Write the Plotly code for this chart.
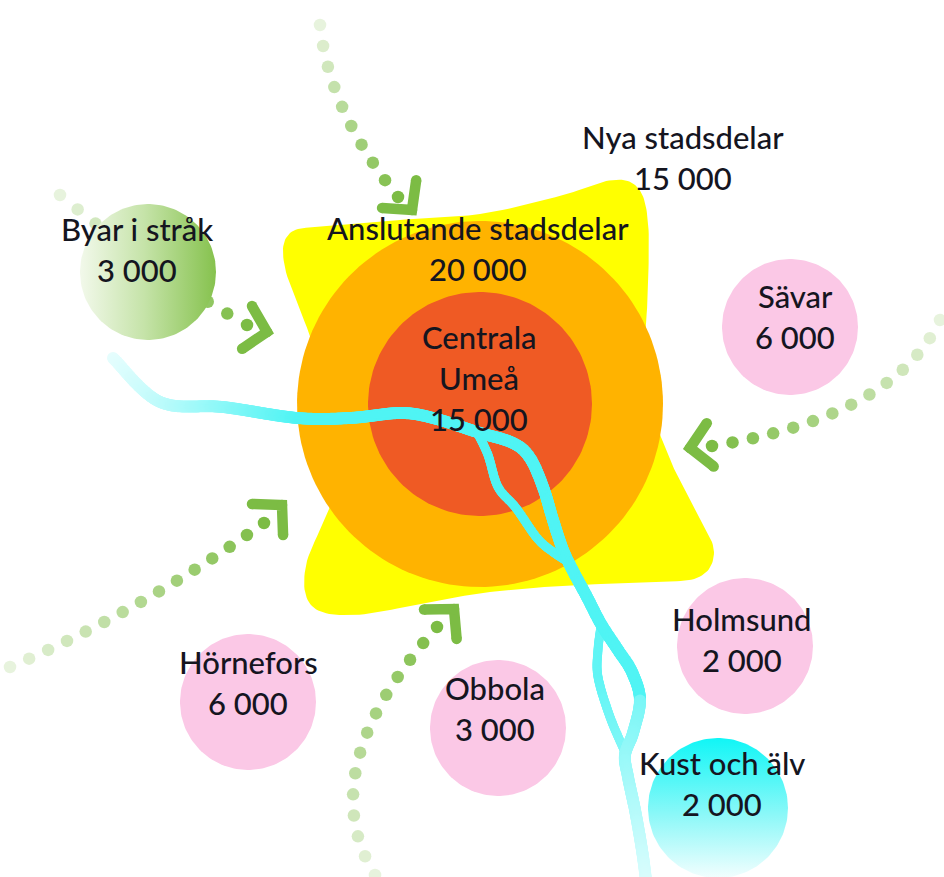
import numpy as np
import plotly.graph_objects as go

# ---------------- data ----------------
area_names = ["Centrala\nUmeå", "Anslutande stadsdelar", "Nya stadsdelar", "Byar i stråk",
              "Sävar", "Holmsund", "Obbola", "Hörnefors", "Kust och älv"]
area_values = [15000, 20000, 15000, 3000, 6000, 2000, 3000, 6000, 2000]

# ---------------- layout geometry (pixels) ----------------
label_x = [479, 478, 683, 137, 795, 742, 495, 248, 722]
label_y = [340, 231, 140, 232, 299, 622, 691, 665, 766]
line_gap = 41

ring_center = (480, 404)
ring_radii = [183, 112]            # orange, red
ring_colors = ["#FFB300", "#EF5A24"]

sat_cx = [790, 745, 498, 248]
sat_cy = [327, 646, 728, 702]
sat_r = 68
pink = "#FBC8E6"

byar_c = (148, 272)
kust_c = (718, 808)

star_outline = [(480, 214), (560, 196), (612, 180), (638, 188), (648, 222), (648, 290),
                (645, 380), (668, 455), (697, 512), (714, 552), (697, 578), (640, 582),
                (560, 586), (490, 592), (430, 602), (355, 615), (312, 606), (306, 565),
                (334, 492), (332, 420), (313, 345), (285, 268), (290, 233), (330, 226),
                (400, 220)]

river_main = [(113, 358), (160, 402), (223, 407), (297, 418), (350, 418), (400, 413),
              (433, 418), (477, 432), (513, 443), (530, 458), (543, 487), (553, 520),
              (563, 550), (573, 571), (587, 597), (601, 624), (618, 650), (632, 672),
              (640, 700), (633, 733), (625, 755), (628, 777), (635, 810), (642, 850),
              (646, 880)]
river_branch1 = [(477, 432), (488, 455), (498, 487), (516, 508), (537, 538), (553, 552),
                 (570, 563)]
river_branch2 = [(601, 626), (598, 650), (598, 677), (610, 717), (625, 752)]

# arrows: quadratic bezier start / control / end, number of dots
arrow_p0 = [(320, 25), (60, 195), (940, 320), (10, 667), (375, 875)]
arrow_p1 = [(329, 111), (150, 270), (894, 417), (141, 611), (310, 770)]
arrow_p2 = [(398, 197), (247, 325), (712, 446), (264, 523), (437, 627)]
arrow_ndots = [10, 11, 14, 15, 14]
chev_vertex = [(412, 210), (267, 332), (690, 448), (282, 505), (454, 609)]
chev_heading = [51, 13, 171, -45, -48]
green = "124,188,68"

FONT = "Lato"
TXT = "#15151f"
FONT_SIZE = 31


def fmt(v):
    return f"{v:,}".replace(",", " ")


def catmull(points, closed, n=14):
    P = np.array(points, float)
    if closed:
        P = np.vstack([P[-1], P, P[0], P[1]])
    else:
        P = np.vstack([P[0], P, P[-1]])
    out = []
    for i in range(1, len(P) - 2):
        p0, p1, p2, p3 = P[i - 1], P[i], P[i + 1], P[i + 2]
        for t in np.linspace(0, 1, n, endpoint=False):
            t2, t3 = t * t, t * t * t
            out.append(0.5 * ((2 * p1) + (-p0 + p2) * t + (2 * p0 - 5 * p1 + 4 * p2 - p3) * t2
                              + (-p0 + 3 * p1 - 3 * p2 + p3) * t3))
    out.append(P[1] if closed else P[-2])
    return np.array(out)


def resample(P, step=1.0):
    seg = np.sqrt(((P[1:] - P[:-1]) ** 2).sum(1))
    L = np.concatenate([[0], np.cumsum(seg)])
    pos = np.arange(0, L[-1], step)
    return np.column_stack([np.interp(pos, L, P[:, 0]), np.interp(pos, L, P[:, 1])])


def circle(cx, cy, r, n=160):
    t = np.linspace(0, 2 * np.pi, n)
    return cx + r * np.cos(t), cy + r * np.sin(t)


fig = go.Figure()

# yellow star
s = catmull(star_outline, True)
fig.add_trace(go.Scatter(x=s[:, 0], y=s[:, 1], fill="toself", fillcolor="#FFFF00",
                         line=dict(width=0), mode="lines", hoverinfo="skip"))
# rings
for r, c in zip(ring_radii, ring_colors):
    x, y = circle(*ring_center, r)
    fig.add_trace(go.Scatter(x=x, y=y, fill="toself", fillcolor=c, line=dict(width=0),
                             mode="lines", hoverinfo="skip"))

# arrows
for p0, p1, p2, nd, cv, hd in zip(arrow_p0, arrow_p1, arrow_p2, arrow_ndots, chev_vertex, chev_heading):
    p0, p1, p2 = map(lambda p: np.array(p, float), (p0, p1, p2))
    t = np.linspace(0, 1, 600)[:, None]
    B = (1 - t) ** 2 * p0 + 2 * t * (1 - t) * p1 + t ** 2 * p2
    seg = np.sqrt(((B[1:] - B[:-1]) ** 2).sum(1))
    L = np.concatenate([[0], np.cumsum(seg)])
    spacing = L[-1] / (nd - 1)
    pos = L[-1] - spacing * np.arange(nd)
    dx = np.interp(pos, L, B[:, 0])
    dy = np.interp(pos, L, B[:, 1])
    alphas = np.linspace(1.0, 0.18, nd)
    fig.add_trace(go.Scatter(x=dx, y=dy, mode="markers", hoverinfo="skip",
                             marker=dict(size=12.5, color=[f"rgba({green},{a:.2f})" for a in alphas],
                                         line=dict(width=0))))
    h = np.radians(hd)
    back = np.array([-np.cos(h), -np.sin(h)])
    arms = []
    for sgn in (1, -1):
        a = np.radians(47) * sgn
        rot = np.array([[np.cos(a), -np.sin(a)], [np.sin(a), np.cos(a)]])
        arms.append(np.array(cv) + 30 * rot @ back)
    cx = [arms[0][0], cv[0], arms[1][0]]
    cy = [arms[0][1], cv[1], arms[1][1]]
    fig.add_trace(go.Scatter(x=cx, y=cy, mode="lines+markers", hoverinfo="skip",
                             line=dict(width=10.5, color=f"rgb({green})"),
                             marker=dict(size=10.5, color=f"rgb({green})")))

# satellite circles
for cx_, cy_ in zip(sat_cx, sat_cy):
    x, y = circle(cx_, cy_, sat_r)
    fig.add_trace(go.Scatter(x=x, y=y, fill="toself", fillcolor=pink, line=dict(width=0),
                             mode="lines", hoverinfo="skip"))
x, y = circle(*byar_c, sat_r)
fig.add_trace(go.Scatter(x=x, y=y, fill="toself", line=dict(width=0), mode="lines", hoverinfo="skip",
                         fillgradient=dict(type="horizontal", start=byar_c[0] - 75, stop=byar_c[0] + 68,
                                           colorscale=[[0, "#F7FBF2"], [0.5, "#C5E3A8"], [1, "#86C24E"]])))
x, y = circle(*kust_c, 70)
fig.add_trace(go.Scatter(x=x, y=y, fill="toself", line=dict(width=0), mode="lines", hoverinfo="skip",
                         fillgradient=dict(type="vertical", start=kust_c[1] - 70, stop=kust_c[1] + 70,
                                           colorscale=[[0, "#10F6F6"], [0.55, "#8CF8F8"], [1, "#F2FEFE"]])))


# river drawn as dense round markers for a smooth, rounded stroke
def mix(c1, c2, f):
    return tuple(int(round(a + (b - a) * f)) for a, b in zip(c1, c2))


cyan = (80, 244, 244)
white = (240, 254, 254)


def river(points, width, color_at):
    P = resample(catmull(points, False, n=10), 1.0)
    cols = [f"rgb{color_at(p)}" for p in P]
    fig.add_trace(go.Scatter(x=P[:, 0], y=P[:, 1], mode="markers", hoverinfo="skip",
                             marker=dict(size=width, color=cols, line=dict(width=0))))


def main_color(p):
    x, y = p
    if x < 300:
        f = min(1, max(0, (300 - x) / 190))
        return mix(cyan, white, f * 0.95)
    if y > 700:
        f = min(1, (y - 700) / 180)
        return mix(cyan, white, 0.25 + 0.6 * f)
    return cyan


river(river_branch1, 9, lambda p: cyan)
river(river_branch2, 9, lambda p: mix(cyan, white, 0.1 + 0.2 * max(0, (p[1] - 680) / 70)))
river(river_main, 12, main_color)

# labels
for name, val, lx, ly in zip(area_names, area_values, label_x, label_y):
    lines = name.split("\n") + [fmt(val)]
    for k, txt in enumerate(lines):
        fig.add_annotation(x=lx, y=ly - 3 + k * line_gap, text=txt, showarrow=False,
                           xanchor="center", yanchor="middle",
                           font=dict(family=FONT, size=FONT_SIZE, color=TXT, weight=500))

fig.update_layout(width=944, height=877, margin=dict(l=0, r=0, t=0, b=0),
                  paper_bgcolor="white", plot_bgcolor="white", showlegend=False,
                  xaxis=dict(range=[0, 944], visible=False, fixedrange=True),
                  yaxis=dict(range=[877, 0], visible=False, fixedrange=True))
fig.write_html("out.html", config={"displayModeBar": False, "staticPlot": True})

# remove the browser's default page margin so the figure sits at (0, 0)
with open("out.html", encoding="utf-8") as f:
    html = f.read()
html = html.replace("<body>", '<body style="margin:0;padding:0;overflow:hidden">', 1)
with open("out.html", "w", encoding="utf-8") as f:
    f.write(html)
